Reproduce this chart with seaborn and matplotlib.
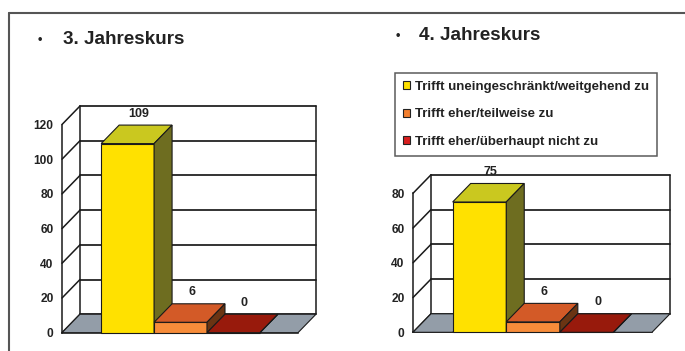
import matplotlib
matplotlib.use("Agg")
import matplotlib.pyplot as plt
from matplotlib import font_manager
from matplotlib.patches import Polygon, Patch
from matplotlib.lines import Line2D
import seaborn as sns
import pandas as pd

# Survey answers per course year
categories = [
    "Trifft uneingeschränkt/weitgehend zu",
    "Trifft eher/teilweise zu",
    "Trifft eher/überhaupt nicht zu",
]
values_3 = [109, 6, 0]
values_4 = [75, 6, 0]
titles = ["3. Jahreskurs", "4. Jahreskurs"]
yticks_3 = [0, 20, 40, 60, 80, 100, 120]
yticks_4 = [0, 20, 40, 60, 80]

front_colors = ["#FFE100", "#F78C3A", "#9C1B0D"]
top_colors = ["#CAC81F", "#D35A27", "#981A0C"]
side_colors = ["#6E6D20", "#6A3413", "#5A1008"]
legend_colors = ["#FFE100", "#F27F2E", "#D81E1E"]
floor_color = "#939DA8"
line_color = "#1A1A1A"

sns.set_style("white")
plt.rcParams["font.family"] = ["Liberation Sans", "DejaVu Sans"]

# condensed face for the axis numbers, if one is installed
installed = {f.name for f in font_manager.fontManager.ttflist}
if "Liberation Sans Narrow" in installed:
    num_font, num_size = ["Liberation Sans Narrow", "DejaVu Sans"], 9.2
else:
    num_font, num_size = ["Liberation Sans", "DejaVu Sans"], 8.6

W, H = 685, 351
fig = plt.figure(figsize=(W / 100, H / 100), dpi=100)
fig.patch.set_facecolor("white")

DEPTH_X, DEPTH_Y = 18.0, 18.5  # pixel offset of the back plane


def px_axes(left, right, top, bottom):
    return fig.add_axes([left / W, 1 - bottom / H, (right - left) / W, (bottom - top) / H])


def draw_chart(ax, values, yticks, xlim, px_w, px_h):
    df = pd.DataFrame({"Kategorie": categories, "Anzahl": values})
    sns.barplot(
        data=df, x="Kategorie", y="Anzahl", hue="Kategorie",
        palette=front_colors, width=1.0, saturation=1, errorbar=None,
        legend=False, edgecolor=line_color, linewidth=0.8, ax=ax,
    )
    ymax = yticks[-1]
    ax.set_xlim(*xlim)
    ax.set_ylim(0, ymax)
    ddx = DEPTH_X * (xlim[1] - xlim[0]) / px_w
    ddy = DEPTH_Y * ymax / px_h
    x0, x1 = xlim

    # back wall, left wall and gridlines
    for y in yticks:
        ax.add_line(Line2D([x0 + ddx, x1 + ddx], [y + ddy, y + ddy], color=line_color,
                           lw=1.25, clip_on=False, zorder=1))
        ax.add_line(Line2D([x0, x0 + ddx], [y, y + ddy], color=line_color,
                           lw=1.1, clip_on=False, zorder=1))
    for xb in (x0 + ddx, x1 + ddx):
        ax.add_line(Line2D([xb, xb], [ddy, ymax + ddy], color=line_color,
                           lw=1.1, clip_on=False, zorder=1))

    bars = sorted(ax.patches, key=lambda p: p.get_x())
    left_edge = bars[0].get_x()
    right_edge = bars[-1].get_x() + bars[-1].get_width()

    # floor
    for a, b in ((x0, left_edge), (right_edge, x1)):
        ax.add_patch(Polygon([(a, 0), (b, 0), (b + ddx, ddy), (a + ddx, ddy)],
                             closed=True, facecolor=floor_color, edgecolor=line_color,
                             lw=0.8, clip_on=False, zorder=2))

    # extruded bars
    for i, (bar, v) in enumerate(zip(bars, values)):
        x, w, h = bar.get_x(), bar.get_width(), bar.get_height()
        z = 3 + i
        bar.set_zorder(z)
        bar.set_clip_on(False)
        ax.add_patch(Polygon([(x, h), (x + w, h), (x + w + ddx, h + ddy), (x + ddx, h + ddy)],
                             closed=True, facecolor=top_colors[i], edgecolor=line_color,
                             lw=0.8, clip_on=False, zorder=z))
        ax.add_patch(Polygon([(x + w, 0), (x + w + ddx, ddy), (x + w + ddx, h + ddy), (x + w, h)],
                             closed=True, facecolor=side_colors[i], edgecolor=line_color,
                             lw=0.8, clip_on=False, zorder=z))
        ax.annotate(f"{v}", xy=(x + w / 2, h), xytext=(11, 30), textcoords="offset pixels",
                    ha="center", va="center", fontsize=num_size + 0.4, fontweight="bold",
                    family=num_font, color="#222222", zorder=10)

    for s in ("top", "right"):
        ax.spines[s].set_visible(False)
    for s in ("left", "bottom"):
        ax.spines[s].set_color(line_color)
        ax.spines[s].set_linewidth(1.1)
        ax.spines[s].set_zorder(1.5)
    ax.set_yticks(yticks)
    ax.set_yticklabels([str(t) for t in yticks], fontsize=num_size, fontweight="bold",
                       family=num_font, color="#222222")
    ax.set_xticks([x0, x1])
    ax.set_xticklabels([])
    ax.tick_params(axis="both", direction="out", length=4, width=1.1, color=line_color, pad=2)
    ax.set_xlabel("")
    ax.set_ylabel("")
    ax.patch.set_visible(False)


ax3 = px_axes(62, 298, 124.5, 332.7)
draw_chart(ax3, values_3, yticks_3, (-1.24, 3.22), 236, 208.2)

ax4 = px_axes(413, 652, 193.3, 332.3)
draw_chart(ax4, values_4, yticks_4, (-1.24, 3.22), 239, 139.0)

# titles with bullets
for (bx, tx, ty), title in zip(((40, 63, 40), (398, 419, 36)), titles):
    fig.text(bx / W, 1 - ty / H, "•", fontsize=9, fontweight="bold",
             ha="center", va="center", color="#222222")
    fig.text(tx / W, 1 - ty / H, title, fontsize=13.6, fontweight="bold",
             ha="left", va="center", color="#222222")

# legend
handles = [Patch(facecolor=c, edgecolor="#222222", linewidth=0.8) for c in legend_colors]
leg = fig.legend(handles, categories, loc="upper left",
                 bbox_to_anchor=(395 / W, 1 - 72.7 / H), borderaxespad=0,
                 frameon=True, fancybox=False, edgecolor="#333333",
                 prop={"family": ["Liberation Sans", "DejaVu Sans"], "weight": "bold", "size": 9.5},
                 handlelength=0.55, handleheight=0.55, handletextpad=0.35,
                 labelspacing=1.17, borderpad=0.62)
leg.get_frame().set_linewidth(1.1)
for t in leg.get_texts():
    t.set_color("#222222")

# outer frame of the slide
fig.add_artist(Line2D([9 / W, 1], [1 - 13 / H, 1 - 13 / H], transform=fig.transFigure,
                      color="#555555", lw=1.5))
fig.add_artist(Line2D([9 / W, 9 / W], [0, 1 - 13 / H], transform=fig.transFigure,
                      color="#555555", lw=1.5))

fig.savefig("out.png", dpi=100, facecolor="white")
